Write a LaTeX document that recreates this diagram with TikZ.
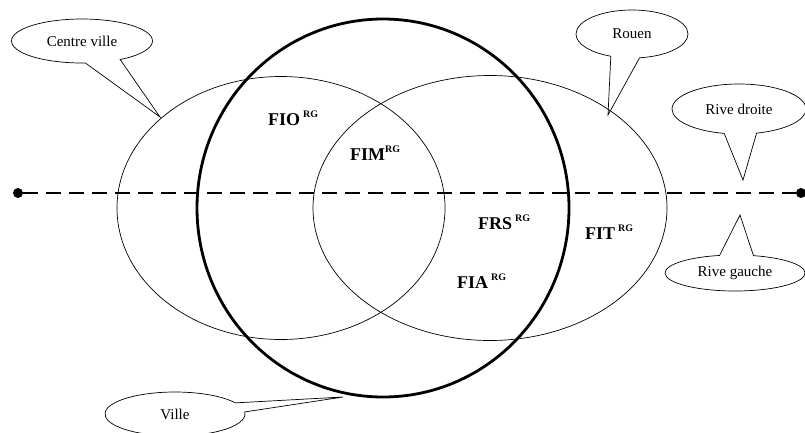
\documentclass[tikz,border=0pt]{standalone}
\usepackage{fontspec}
\setmainfont{Liberation Serif}
\usetikzlibrary{shapes.geometric,shapes.callouts}
\tikzset{
  region/.style={draw, ellipse, line width=0.7pt, inner sep=0pt},
  bigregion/.style={draw, ellipse, line width=2.8pt, inner sep=0pt},
  bubble/.style={draw, ellipse callout, line width=0.7pt, inner sep=0pt,
    font=\fontsize{15}{17}\selectfont},
  lab/.style={anchor=base west, inner sep=0pt, font=\bfseries\fontsize{18}{20}\selectfont},
  endpt/.style={circle, fill=black, inner sep=0pt, minimum size=10pt},
  axis/.style={line width=2.4pt, dash pattern=on 15pt off 8pt}
}
\newcommand{\rgsup}{\raisebox{0.42em}{\fontsize{10}{10}\selectfont RG}}
\begin{document}
\begin{tikzpicture}[x=1pt,y=-1pt]
\useasboundingbox (0,0) rectangle (805,432);
\clip (0,0) rectangle (805,432);
% regions
\node[region, minimum width=328pt, minimum height=263pt] (centre) at (281,208) {};
\node[region, minimum width=354pt, minimum height=265pt] (rouen) at (490,208) {};
\node[bigregion, minimum width=372pt, minimum height=378pt] (ville) at (383,208) {};
% axis
\node[endpt] (L) at (18,193) {};
\node[endpt] (R) at (801,193) {};
\draw[axis] (L) -- (R);
% tips
\coordinate (cvtip) at (160,117);
\coordinate (rotip) at (608,115);
\coordinate (rdtip) at (743,180);
\coordinate (rgtip) at (740,215);
\coordinate (vitip) at (343,397);
% callouts
\node[bubble, minimum width=141pt, minimum height=44pt, callout absolute pointer={(cvtip)}, callout pointer arc=30] (bcv) at (82,41) {Centre ville};
\node[bubble, minimum width=112pt, minimum height=48pt, callout absolute pointer={(rotip)}, callout pointer arc=30] (bro) at (632,34) {Rouen};
\node[bubble, minimum width=134pt, minimum height=50pt, callout absolute pointer={(rdtip)}, callout pointer arc=28] (brd) at (739,109) {Rive droite};
\node[bubble, minimum width=140pt, minimum height=36pt, callout absolute pointer={(rgtip)}, callout pointer arc=28] (brg) at (735,273) {Rive gauche};
\node[bubble, minimum width=140pt, minimum height=44pt, callout absolute pointer={(vitip)}, callout pointer arc=25] (bvi) at (175,414) {Ville};
% labels
\node[lab] (fio) at (268,125) {FIO\,\rgsup};
\node[lab] (fim) at (350,160) {FIM\rgsup};
\node[lab] (frs) at (478,229) {FRS\,\rgsup};
\node[lab] (fit) at (585,239) {FIT\,\rgsup};
\node[lab] (fia) at (457,288) {FIA\,\rgsup};
\end{tikzpicture}
\end{document}
